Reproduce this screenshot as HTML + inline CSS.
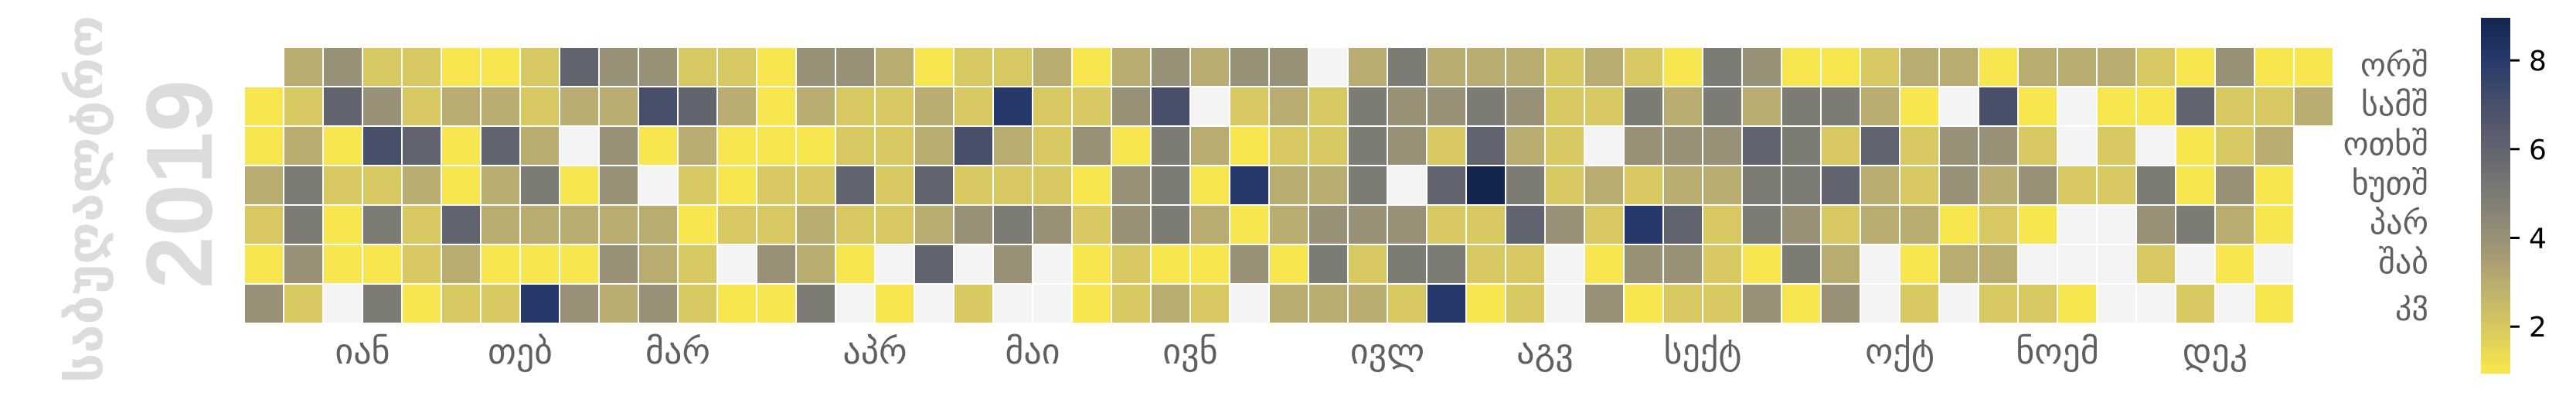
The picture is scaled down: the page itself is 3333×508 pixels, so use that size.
<!DOCTYPE html>
<html><head><meta charset="utf-8">
<style>
html,body{margin:0;padding:0;background:#fff;width:3333px;height:508px;overflow:hidden}
svg{display:block}
</style></head>
<body>
<svg id="chart" width="3333" height="508" viewBox="0 0 3333 508" xmlns="http://www.w3.org/2000/svg">
  <text transform="translate(132,495) rotate(-90)" font-family="DejaVu Sans, sans-serif" font-weight="bold" font-size="64" fill="#dcdcdc" textLength="475" lengthAdjust="spacingAndGlyphs">საბუღალტრო</text>
  <text transform="translate(274,373) rotate(-90)" font-family="Liberation Sans, sans-serif" font-weight="bold" font-size="122" fill="#dcdcdc" textLength="270" lengthAdjust="spacingAndGlyphs">2019</text>
  <g id="cells"></g>
  <g id="months"></g>
  <g id="days"></g>
  <defs><linearGradient id="cbgrad" x1="0" y1="1" x2="0" y2="0"></linearGradient></defs>
  <rect x="3210" y="23" width="38" height="460" fill="url(#cbgrad)"/>
  <g id="cbticks"></g>
</svg>
<script>
// Weekday rows (Mon..Sun), one value per week column; null = outside the year, 0 = no data
const mon = [null,3,4,2,2,1,1,2,6,4,4,2,2,1, 4,4,3,1,2,2,3,1,3,4,3,4,4,0, 3,5,3,3,3,2,3,2,1,5,4,1,1,2, 3,3,1,3,3,3,2,1,4,1,1];
const tue = [1,2,6,4,2,3,3,2,3,3,7,6,3,1, 3,2,2,3,2,8,2,2,4,7,0,2,3,2, 5,4,4,5,4,2,2,5,3,5,3,5,5,3, 1,0,7,1,0,1,1,6,2,2,3];
const wed = [1,3,1,7,6,1,6,3,0,4,1,3,1,1, 1,2,2,3,7,3,2,4,1,5,3,1,2,2, 5,4,2,6,3,2,0,4,4,4,6,5,2,6, 2,4,4,2,0,2,0,1,2,3,null];
const thu = [3,5,2,2,3,1,3,5,1,4,0,2,1,2, 2,6,2,6,2,2,2,1,4,5,1,8,3,3, 5,0,6,9,5,2,3,2,3,3,5,5,6,3, 2,4,3,4,2,2,5,1,4,1,null];
const fri = [2,5,1,5,2,6,3,3,3,3,3,1,2,2, 3,2,2,3,4,5,4,2,4,5,3,1,3,4, 4,4,2,2,6,4,2,8,6,2,5,4,2,3, 3,1,2,1,0,0,4,5,3,1,null];
const sat = [1,4,1,1,2,3,1,1,1,4,3,2,0,4, 3,1,0,6,0,4,0,1,2,1,1,4,1,5, 2,5,5,2,2,0,1,4,4,2,1,5,3,0, 1,3,3,0,0,0,2,0,1,0,null];
const sun = [4,2,0,5,1,2,2,8,4,3,4,2,1,1, 5,0,1,0,2,0,0,1,2,3,2,0,3,3, 3,2,8,1,2,0,4,1,2,2,4,1,4,0, 2,0,2,2,1,0,0,2,0,1,null];
const weekdayLabels = ["ორშ","სამშ","ოთხშ","ხუთშ","პარ","შაბ","კვ"];
const monthLabels = ["იან","თებ","მარ","აპრ","მაი","ივნ","ივლ","აგვ","სექტ","ოქტ","ნოემ","დეკ"];
const cbTicks = [2,4,6,8];
const vmin = 0.94, vmax = 8.96;

const rows = [mon,tue,wed,thu,fri,sat,sun];
const NS = "http://www.w3.org/2000/svg";
const X0 = 316, Y0 = 61, CELL = 51;
const xScale = w => X0 + w*CELL;
const yScale = r => Y0 + r*CELL;
const stops = [[0.94,"#fae74a"],[1,"#f7e64f"],[2,"#d7c861"],[3,"#b8ac70"],[4,"#989077"],[5,"#7c7b74"],[6,"#61636f"],[7,"#484f6a"],[8,"#27386b"],[9,"#13254c"]];
function hex(h){return [1,3,5].map(i=>parseInt(h.substr(i,2),16));}
function color(v){
  if(v<=stops[0][0]) return stops[0][1];
  for(let i=1;i<stops.length;i++){
    if(v<=stops[i][0]){
      const a=hex(stops[i-1][1]),b=hex(stops[i][1]),t=(v-stops[i-1][0])/(stops[i][0]-stops[i-1][0]);
      return "rgb("+a.map((c,k)=>Math.round(c+(b[k]-c)*t)).join(",")+")";
    }
  }
  return stops[stops.length-1][1];
}
const cells = document.getElementById("cells");
rows.forEach((row,r)=>{
  row.forEach((v,w)=>{
    if(v===null) return;
    const rc = document.createElementNS(NS,"rect");
    rc.setAttribute("x", xScale(w)+1);
    rc.setAttribute("y", yScale(r)+1);
    rc.setAttribute("width", CELL-2);
    rc.setAttribute("height", CELL-2);
    rc.setAttribute("fill", v===0 ? "#f4f4f4" : color(v));
    
    
    cells.appendChild(rc);
  });
});
// month labels: placed at week of the 15th of each month
const months = document.getElementById("months");
monthLabels.forEach((m,i)=>{
  const d = new Date(Date.UTC(2019,i,15));
  const doy = Math.round((d - Date.UTC(2019,0,1))/86400000);
  const week = Math.floor((doy+1)/7);
  const t = document.createElementNS(NS,"text");
  t.setAttribute("x", xScale(week+1));
  t.setAttribute("y", 470);
  t.setAttribute("text-anchor","middle");
  t.setAttribute("font-family","DejaVu Sans, sans-serif");
  t.setAttribute("font-size","46");
  t.setAttribute("fill","#606060");
  t.textContent = m;
  
  
  months.appendChild(t);
});
const days = document.getElementById("days");
weekdayLabels.forEach((d,r)=>{
  const t = document.createElementNS(NS,"text");
  t.setAttribute("x", 3142);
  t.setAttribute("y", yScale(r)+CELL/2+12);
  t.setAttribute("text-anchor","end");
  t.setAttribute("font-family","DejaVu Sans, sans-serif");
  t.setAttribute("font-size","42");
  t.setAttribute("fill","#606060");
  t.textContent = d;
  
  
  days.appendChild(t);
});
// colorbar
const grad = document.getElementById("cbgrad");
for(let i=0;i<=20;i++){
  const v = vmin + (vmax-vmin)*i/20;
  const s = document.createElementNS(NS,"stop");
  s.setAttribute("offset", (i*5)+"%");
  s.setAttribute("stop-color", color(v));
  grad.appendChild(s);
}
const cbY = v => 483 - (v-vmin)/(vmax-vmin)*460;
const cbt = document.getElementById("cbticks");
cbTicks.forEach(v=>{
  const l = document.createElementNS(NS,"line");
  l.setAttribute("x1",3248); l.setAttribute("x2",3260);
  l.setAttribute("y1",cbY(v)); l.setAttribute("y2",cbY(v));
  l.setAttribute("stroke","#000"); l.setAttribute("stroke-width","3");
  
  
  cbt.appendChild(l);
  const t = document.createElementNS(NS,"text");
  t.setAttribute("x",3272); t.setAttribute("y",cbY(v)+13);
  t.setAttribute("font-family","DejaVu Sans, sans-serif");
  t.setAttribute("font-size","36");
  t.setAttribute("fill","#000");
  t.textContent = v;
  
  
  cbt.appendChild(t);
});
</script>
</body></html>
